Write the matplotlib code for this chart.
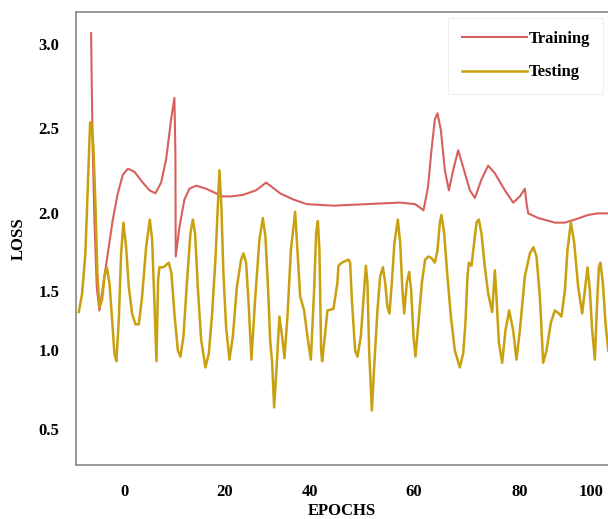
import numpy as np
import matplotlib.pyplot as plt

# values (epoch, loss)
train_epoch = [-7.07, -6.92, -6.70, -6.36, -5.85, -5.29, -4.56, -3.49, -2.42, -1.35, -0.28, 0.79,
               2.21, 4.00, 5.42, 6.70, 7.92, 8.99, 10.06, 10.77, 10.98, 11.05, 11.84, 12.91,
               13.98, 15.42, 17.56, 19.70, 21.13, 22.91, 25.42, 28.27, 30.41, 33.40, 36.25,
               39.12, 44.82, 51.97, 59.10, 62.31, 63.23, 64.09, 64.82, 65.10, 65.80, 66.53,
               67.09, 67.82, 68.67, 69.53, 70.45, 71.52, 72.59, 74.02, 75.10, 76.51, 77.94,
               79.38, 81.52, 83.30, 84.73, 85.80, 86.14, 86.51, 88.65, 92.23, 94.37, 96.51,
               99.36, 101.50, 103.64]
train_loss = [3.07, 2.72, 2.29, 1.86, 1.42, 1.27, 1.42, 1.64, 1.86, 2.03, 2.15, 2.19,
              2.17, 2.10, 2.05, 2.03, 2.10, 2.25, 2.51, 2.65, 2.29, 1.62, 1.81, 1.99,
              2.06, 2.08, 2.06, 2.03, 2.01, 2.01, 2.02, 2.05, 2.10, 2.03, 1.99,
              1.96, 1.95, 1.96, 1.97, 1.96, 1.94, 1.92, 2.03, 2.08, 2.31, 2.51,
              2.55, 2.44, 2.18, 2.05, 2.18, 2.31, 2.20, 2.05, 2.00, 2.12, 2.21,
              2.16, 2.05, 1.97, 2.01, 2.06, 1.97, 1.90, 1.87, 1.84, 1.84, 1.86,
              1.89, 1.90, 1.90]

test_epoch = [-9.70, -8.99, -8.29, -7.77, -7.28, -7.00, -6.57, -6.15, -5.72, -5.29, -4.71, -4.22,
              -3.70, -3.15, -2.57, -2.08, -1.65, -1.13, -0.64, -0.15, 0.43, 1.01, 1.71, 2.42,
              3.15, 3.85, 4.71, 5.50, 6.00, 6.49, 6.92, 7.28, 7.56, 8.42, 9.57, 10.13, 10.77,
              11.50, 12.06, 12.70, 13.49, 14.20, 14.71, 15.20, 15.78, 16.49, 17.41, 18.14,
              18.84, 19.55, 20.06, 20.41, 20.83, 21.26, 21.84, 22.55, 23.28, 24.13, 25.05,
              25.55, 26.12, 26.70, 27.26, 28.05, 28.97, 29.70, 30.26, 30.90, 31.26, 31.69,
              32.12, 32.70, 33.25, 33.83, 34.33, 34.97, 35.70, 36.62, 37.11, 37.69, 38.54,
              39.25, 39.98, 40.68, 41.11, 41.48, 41.82, 42.18, 42.40, 42.98, 43.53, 44.82,
              45.67, 45.89, 46.62, 48.03, 48.39, 48.76, 49.46, 49.96, 50.68, 51.24, 51.76,
              52.10, 52.46, 53.04, 53.53, 54.24, 54.82, 55.40, 55.89, 56.38, 56.81, 57.32,
              57.88, 58.61, 59.10, 59.59, 59.96, 60.53, 61.03, 61.46, 61.95, 62.38, 63.02,
              63.75, 64.45, 65.16, 65.80, 66.53, 67.09, 67.60, 67.94, 68.52, 69.23, 69.96,
              70.81, 71.88, 72.59, 73.08, 73.51, 73.81, 74.37, 74.95, 75.44, 75.95, 76.51,
              77.24, 77.94, 78.80, 79.38, 79.72, 80.24, 80.94, 81.65, 82.44, 83.30, 84.00,
              84.73, 85.80, 86.87, 87.64, 88.29, 89.01, 89.72, 90.43, 91.37, 92.23, 93.08,
              93.64, 94.37, 94.92, 95.65, 96.36, 97.22, 98.07, 98.65, 99.21, 99.72, 100.21,
              100.79, 101.22, 101.65, 101.99, 102.50, 103.06, 103.64]
test_loss = [1.26, 1.38, 1.64, 2.07, 2.49, 2.49, 2.33, 1.97, 1.51, 1.29, 1.34, 1.49,
             1.55, 1.45, 1.21, 0.99, 0.94, 1.21, 1.64, 1.84, 1.68, 1.42, 1.25, 1.18,
             1.18, 1.36, 1.68, 1.86, 1.73, 1.32, 0.94, 1.47, 1.55, 1.55, 1.58, 1.51, 1.25,
             1.01, 0.97, 1.10, 1.47, 1.77, 1.86, 1.77, 1.42, 1.08, 0.90, 0.99,
             1.25, 1.60, 1.94, 2.18, 1.94, 1.51, 1.16, 0.95, 1.10, 1.42, 1.60,
             1.64, 1.58, 1.29, 0.95, 1.34, 1.73, 1.87, 1.75, 1.36, 1.08, 0.93,
             0.64, 0.93, 1.23, 1.10, 0.96, 1.23, 1.66, 1.91, 1.66, 1.36, 1.27,
             1.10, 0.95, 1.40, 1.77, 1.85, 1.66, 1.01, 0.94, 1.10, 1.27, 1.28,
             1.45, 1.56, 1.58, 1.60, 1.58, 1.34, 1.01, 0.97, 1.10, 1.34, 1.56,
             1.45, 1.01, 0.62, 0.90, 1.27, 1.49, 1.55, 1.45, 1.29, 1.25, 1.45,
             1.71, 1.86, 1.71, 1.40, 1.25, 1.45, 1.52, 1.40, 1.10, 0.97, 1.19,
             1.45, 1.60, 1.62, 1.61, 1.58, 1.66, 1.84, 1.89, 1.77, 1.49, 1.23,
             1.01, 0.90, 0.99, 1.19, 1.49, 1.58, 1.56, 1.71, 1.84, 1.86, 1.77,
             1.55, 1.38, 1.26, 1.53, 1.36, 1.06, 0.93, 1.14, 1.27, 1.14, 0.95,
             1.14, 1.49, 1.64, 1.68, 1.62, 1.36, 0.93, 1.01, 1.19, 1.27, 1.25,
             1.23, 1.40, 1.66, 1.84, 1.71, 1.42, 1.25, 1.40, 1.55, 1.40, 1.14,
             0.95, 1.29, 1.55, 1.58, 1.45, 1.19, 1.01]

x_labels = ['0', '20', '40', '60', '80', '100']
y_labels = ['3.0', '2.5', '2.0', '1.5', '1.0', '0.5']

plt.rcParams['font.family'] = ['Liberation Serif', 'DejaVu Serif']

fig = plt.figure(figsize=(6.08, 5.19), dpi=100)
ax = fig.add_axes([0.125, 0.104, 0.875, 0.873])

ax.plot(train_epoch, train_loss, color='#d75f5c', linewidth=1.5, label='Training',
        solid_joinstyle='round')
ax.plot(test_epoch, test_loss, color='#c9a010', linewidth=1.8, label='Testing',
        solid_joinstyle='round')

ax.set_xlim(-10.3, 103.6)
ax.set_ylim(0.266, 3.208)

# label positions as they sit in the picture
ax.set_xticks([0, 21.6, 39.8, 61.9, 84.6, 100])
ax.set_xticklabels(x_labels)
ax.set_yticks([3.0, 2.455, 1.903, 1.396, 1.013, 0.5])
ax.set_yticklabels(y_labels)
ax.tick_params(length=0, labelsize=12)
ax.tick_params(axis='y', pad=12)
ax.tick_params(axis='x', pad=14)
for lab in ax.get_xticklabels() + ax.get_yticklabels():
    lab.set_fontweight('bold')

for s in ['left', 'bottom', 'top']:
    ax.spines[s].set_color('#888888')
    ax.spines[s].set_linewidth(1.2)
ax.spines['right'].set_visible(False)

ax.set_xlabel('EPOCHS', fontsize=12, fontweight='bold', labelpad=2)
ax.set_ylabel('LOSS', fontsize=12, fontweight='bold', labelpad=8)

leg = ax.legend(loc='upper right', bbox_to_anchor=(0.997, 0.995),
                prop={'weight': 'bold', 'size': 12}, handlelength=3.9,
                handletextpad=0.1, borderpad=0.8, labelspacing=1.05,
                fancybox=False, borderaxespad=0.2)
leg.get_frame().set_edgecolor('#eeeeee')
leg.get_frame().set_linewidth(0.8)
leg.get_frame().set_alpha(1)

fig.savefig('out.png', dpi=100)
